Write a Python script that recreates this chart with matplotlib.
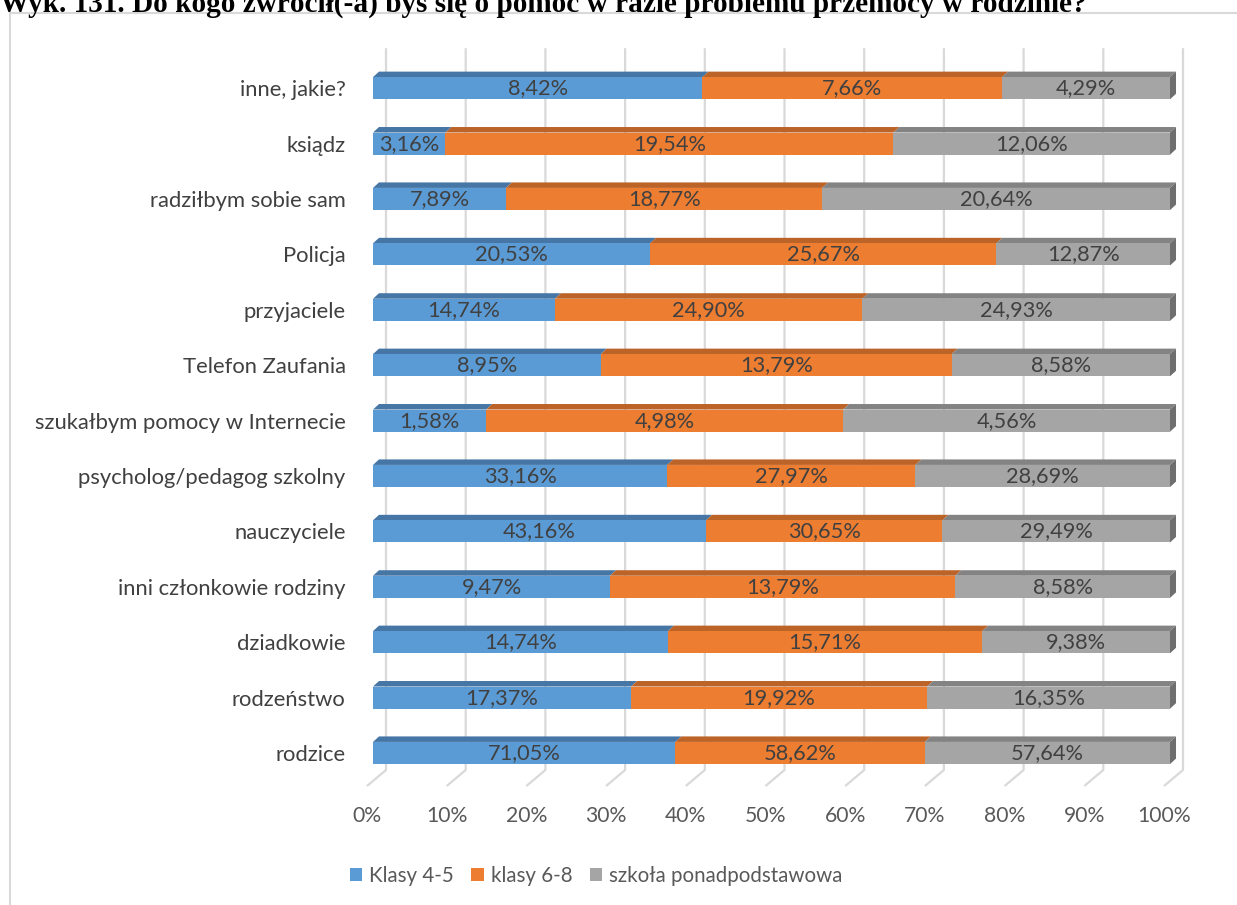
import matplotlib.pyplot as plt
import matplotlib.patches as mpatches
from matplotlib.lines import Line2D
import numpy as np

categories = ['inne, jakie?', 'ksiądz', 'radziłbym sobie sam', 'Policja', 'przyjaciele',
              'Telefon Zaufania', 'szukałbym pomocy w Internecie', 'psycholog/pedagog szkolny',
              'nauczyciele', 'inni członkowie rodziny', 'dziadkowie', 'rodzeństwo', 'rodzice']
klasy_45 = [8.42, 3.16, 7.89, 20.53, 14.74, 8.95, 1.58, 33.16, 43.16, 9.47, 14.74, 17.37, 71.05]
klasy_68 = [7.66, 19.54, 18.77, 25.67, 24.90, 13.79, 4.98, 27.97, 30.65, 13.79, 15.71, 19.92, 58.62]
ponadpodst = [4.29, 12.06, 20.64, 12.87, 24.93, 8.58, 4.56, 28.69, 29.49, 8.58, 9.38, 16.35, 57.64]
series_names = ['Klasy 4-5', 'klasy 6-8', 'szkoła ponadpodstawowa']
tick_labels = ['0%', '10%', '20%', '30%', '40%', '50%', '60%', '70%', '80%', '90%', '100%']

front_col = ['#5B9BD5', '#ED7D31', '#A5A5A5']
top_col = ['#4676A5', '#BC6328', '#838383']
side_col = '#6E6E6E'
grid_col = '#D9D9D9'

plt.rcParams['font.family'] = ['Lato', 'DejaVu Sans']

W, H = 1237, 905
fig = plt.figure(figsize=(W / 100, H / 100), dpi=100)

# axes placement (pixels): 0% of bar front at x=373, 7.97 px per percent
ppx = 7.97
x0, x1 = -1.0, 103.0
rowpx = 55.4
y_bot, y_top = -0.9, 12.8
left_px = 373 + x0 * ppx
right_px = 373 + x1 * ppx
top_px = 753 - (y_top) * rowpx
bot_px = 753 - y_bot * rowpx
ax = fig.add_axes([left_px / W, 1 - bot_px / H, (right_px - left_px) / W, (bot_px - top_px) / H])
ax.set_xlim(x0, x1)
ax.set_ylim(y_bot, y_top)
for s in ax.spines.values():
    s.set_visible(False)

# 3D gridlines: back wall verticals + floor diagonals
back_dx = 13 / ppx
front_dx = -6 / ppx
floor_back_y = -(770 - 753) / rowpx
floor_front_y = -(786 - 753) / rowpx
wall_top_y = 12 + (88 - 48) / rowpx
for k in range(11):
    xb = 10 * k + back_dx
    ax.plot([xb, xb, 10 * k + front_dx], [wall_top_y, floor_back_y, floor_front_y],
            color=grid_col, lw=1.6, zorder=1, solid_capstyle='butt')

n = len(categories)
ypos = np.arange(n)[::-1]
data = np.array([klasy_45, klasy_68, ponadpodst])
totals = data.sum(axis=0)
pct = data / totals * 100

h = 0.4
ddx = 6 / ppx
ddy = 5.5 / rowpx
lefts = np.zeros(n)
for j in range(3):
    ax.barh(ypos, pct[j], left=lefts, height=h, color=front_col[j], zorder=3)
    for i in range(n):
        l, r, y = lefts[i], lefts[i] + pct[j][i], ypos[i]
        top = mpatches.Polygon([(l, y + h / 2), (r, y + h / 2), (r + ddx, y + h / 2 + ddy),
                                (l + ddx, y + h / 2 + ddy)], closed=True,
                               facecolor=top_col[j], edgecolor='none', zorder=2)
        ax.add_patch(top)
        val = f'{data[j][i]:.2f}%'.replace('.', ',')
        ax.text(l + pct[j][i] / 2, y, val, ha='center', va='center',
                fontsize=15.7, color='#404040', zorder=5)
    lefts = lefts + pct[j]

for i in range(n):
    y = ypos[i]
    side = mpatches.Polygon([(100, y - h / 2), (100, y + h / 2), (100 + ddx, y + h / 2 + ddy),
                             (100 + ddx, y - h / 2 + ddy)], closed=True,
                            facecolor=side_col, edgecolor='none', zorder=2)
    ax.add_patch(side)

ax.set_yticks(ypos)
ax.set_yticklabels(categories, fontsize=15.8, color='#404040')
ax.set_xticks([10 * k + front_dx for k in range(11)])
ax.set_xticklabels(tick_labels, fontsize=15.2, color='#595959')
ax.tick_params(axis='both', length=0)
ax.tick_params(axis='y', pad=14)
ax.tick_params(axis='x', pad=2)

# legend
handles = [mpatches.Patch(facecolor=c, edgecolor='none') for c in front_col]
fig.legend(handles, series_names, loc='center', bbox_to_anchor=(596 / W, 1 - 876 / H),
           ncol=3, frameon=False, fontsize=14.8, handlelength=0.6, handleheight=0.6,
           handletextpad=0.34, columnspacing=0.85, labelcolor='#595959')

# chart frame (extends beyond image on right and bottom)
fig.add_artist(Line2D([9.5 / W, 9.5 / W], [1 - 13 / H, 0], color='#D9D9D9', lw=1.5))
fig.add_artist(Line2D([9.5 / W, 1], [1 - 13 / H, 1 - 13 / H], color='#D9D9D9', lw=1.5))

# title, cut off at the top edge
fig.text(0.0, 1 - 12 / H, 'Wyk. 131. Do kogo zwrócił(-a) byś się o pomoc w razie problemu przemocy w rodzinie?',
         family='Liberation Serif', fontweight='bold', fontsize=21.1, ha='left', va='baseline',
         color='black')

fig.savefig('out.png', dpi=100, facecolor='white')
